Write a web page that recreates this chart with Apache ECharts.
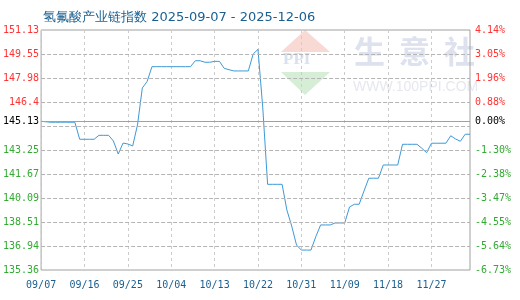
<!DOCTYPE html>
<html>
<head>
<meta charset="utf-8">
<script src="https://cdn.jsdelivr.net/npm/echarts@6/dist/echarts.min.js"></script>
<style>html,body{margin:0;padding:0;background:#fff;}#c{width:520px;height:300px;}</style>
</head>
<body>
<div id="c"></div>
<script>
const titleText = '氢氟酸产业链指数 2025-09-07 - 2025-12-06';
const dates = [
 '09/07','09/08','09/09','09/10','09/11','09/12','09/13','09/14','09/15','09/16',
 '09/17','09/18','09/19','09/20','09/21','09/22','09/23','09/24','09/25','09/26',
 '09/27','09/28','09/29','09/30','10/01','10/02','10/03','10/04','10/05','10/06',
 '10/07','10/08','10/09','10/10','10/11','10/12','10/13','10/14','10/15','10/16',
 '10/17','10/18','10/19','10/20','10/21','10/22','10/23','10/24','10/25','10/26',
 '10/27','10/28','10/29','10/30','10/31','11/01','11/02','11/03','11/04','11/05',
 '11/06','11/07','11/08','11/09','11/10','11/11','11/12','11/13','11/14','11/15',
 '11/16','11/17','11/18','11/19','11/20','11/21','11/22','11/23','11/24','11/25',
 '11/26','11/27','11/28','11/29','11/30','12/01','12/02','12/03','12/04','12/05'
];
const indexValues = [
 145.13,145.10,145.07,145.07,145.07,145.07,145.07,145.07,143.95,143.95,
 143.95,143.95,144.21,144.21,144.21,143.84,142.98,143.70,143.64,143.51,
 144.89,147.32,147.75,148.72,148.72,148.72,148.72,148.72,148.72,148.72,
 148.72,148.72,149.11,149.11,149.01,149.01,149.07,149.07,148.61,148.52,
 148.44,148.44,148.44,148.44,149.55,149.86,146.00,140.99,140.99,140.99,
 140.99,139.30,138.25,137.00,136.67,136.67,136.67,137.55,138.32,138.32,
 138.32,138.45,138.45,138.45,139.50,139.68,139.68,140.55,141.39,141.39,
 141.39,142.26,142.26,142.26,142.26,143.62,143.62,143.62,143.62,143.36,
 143.07,143.69,143.69,143.69,143.69,144.18,143.97,143.82,144.28,144.28
];
const baseValue = 145.13;
const yMin = 135.36, yMax = 151.13;
const gridTicks = [136.94,138.51,140.09,141.67,143.25,144.82,146.4,147.98,149.55];
const labelTicks = [135.36,136.94,138.51,140.09,141.67,143.25,145.13,146.4,147.98,149.55,151.13];
const leftLabels = ['135.36','136.94','138.51','140.09','141.67','143.25','145.13','146.4','147.98','149.55','151.13'];
const rightLabels = ['-6.73%','-5.64%','-4.55%','-3.47%','-2.38%','-1.30%','0.00%','0.88%','1.96%','3.05%','4.14%'];

function idxOf(v){ for(let i=0;i<labelTicks.length;i++){ if(Math.abs(labelTicks[i]-v)<1e-6) return i; } return -1; }
function colorOf(v){ if(Math.abs(v-baseValue)<1e-6) return '#000000'; return v>baseValue ? '#ff3333' : '#33aa33'; }

const mono = 'DejaVu Sans Mono';

const chart = echarts.init(document.getElementById('c'), null, {renderer:'canvas'});
chart.setOption({
  animation:false,
  backgroundColor:'#ffffff',
  title:{text:titleText,left:38,top:6,textStyle:{fontSize:13,fontWeight:'normal',color:'#1a5f8f',fontFamily:'DejaVu Sans'}},
  graphic:[
    {type:'polygon',silent:true,z:-1,shape:{points:[[305,30],[330,52],[281,52]]},style:{fill:'#f8d9d4'}},
    {type:'text',silent:true,z:-1,left:283,top:51,style:{text:'PPI',font:'bold 17px "Liberation Serif"',fill:'#d9e0f0'}},
    {type:'polygon',silent:true,z:-1,shape:{points:[[281,72],[330,72],[305,95]]},style:{fill:'#d6eed6'}},
    {type:'text',silent:true,z:-1,left:354,top:36,style:{text:'生',font:'bold 31px "Noto Sans CJK SC"',fill:'#dde2ee'}},
    {type:'text',silent:true,z:-1,left:399,top:36,style:{text:'意',font:'bold 31px "Noto Sans CJK SC"',fill:'#dde2ee'}},
    {type:'text',silent:true,z:-1,left:444,top:36,style:{text:'社',font:'bold 31px "Noto Sans CJK SC"',fill:'#dde2ee'}},
    {type:'text',silent:true,z:-1,left:353,top:80,style:{text:'WWW.100PPI.COM',font:'14px "Liberation Sans"',fill:'#e6e8ef'}}
  ],
  grid:{left:40,right:50,top:30,bottom:30,show:true,borderColor:'#a0a0a0',borderWidth:1,backgroundColor:'transparent'},
  xAxis:{
    type:'category',data:dates,boundaryGap:false,
    axisLine:{show:false},axisTick:{show:false},
    axisLabel:{interval:8,margin:10,fontSize:10,fontFamily:mono,color:'#1a5f8f'},
    splitLine:{show:true,interval:8,lineStyle:{color:'#cccccc',type:[3,3],width:1}}
  },
  yAxis:[
    {type:'value',min:yMin,max:yMax,position:'left',
     axisLine:{show:false},
     axisTick:{show:false,customValues:labelTicks},
     axisLabel:{customValues:labelTicks,margin:2,fontSize:10,fontFamily:mono,
       formatter:function(v){const i=idxOf(v);return i>=0?leftLabels[i]:'';},
       color:function(v){return colorOf(Number(v));}},
     splitLine:{show:false}
    },
    {type:'value',min:yMin,max:yMax,position:'right',
     axisLine:{show:false},
     axisTick:{show:false,customValues:labelTicks},
     axisLabel:{customValues:labelTicks,margin:5,fontSize:10,fontFamily:mono,
       formatter:function(v){const i=idxOf(v);return i>=0?rightLabels[i]:'';},
       color:function(v){return colorOf(Number(v));}},
     splitLine:{show:false}
    }
  ],
  series:[
    {type:'line',data:indexValues,yAxisIndex:0,showSymbol:false,symbol:'none',z:3,
     lineStyle:{color:'#3c9ad8',width:1},itemStyle:{color:'#3c9ad8'},
     markLine:{silent:true,symbol:['none','none'],label:{show:false},
       lineStyle:{color:'#a0a0a0',type:'solid',width:1},
       data:[{yAxis:baseValue}]}
    },
    {type:'line',data:[],yAxisIndex:0,showSymbol:false,z:1,
     markLine:{silent:true,symbol:['none','none'],label:{show:false},
       lineStyle:{color:'#b4b4b4',type:'dashed',width:1},
       data:gridTicks.map(function(t){return {yAxis:t};})}
    }
  ]
});
</script>
</body>
</html>
